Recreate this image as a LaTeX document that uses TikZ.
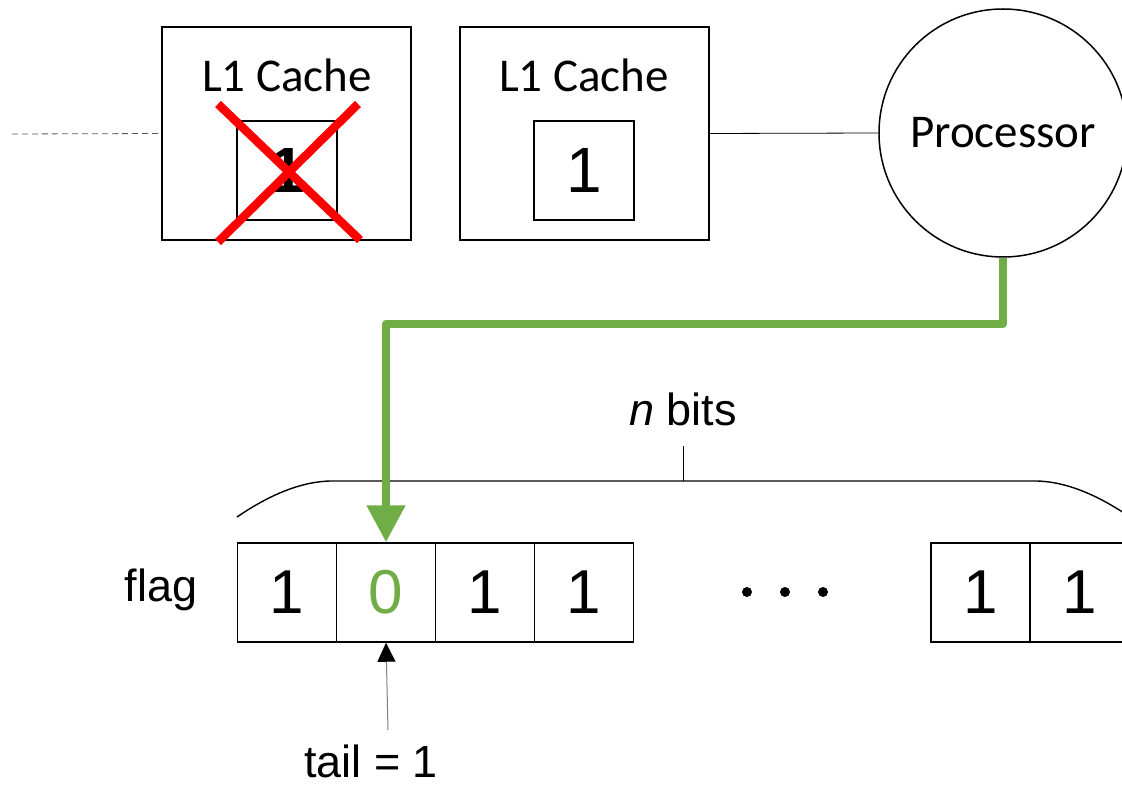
\documentclass[tikz,border=0pt]{standalone}
\usepackage{fontspec}
\setmainfont{Liberation Sans}
\newfontfamily\calibrifont{Carlito}
\usetikzlibrary{arrows.meta}
\definecolor{accgreen}{RGB}{112,173,71}
\definecolor{crossred}{RGB}{255,0,0}

\begin{document}
\begin{tikzpicture}[x=1pt,y=-1pt,
  cachebox/.style={draw, line width=1.6pt, minimum width=249pt, minimum height=213pt, inner sep=0pt},
  slot/.style={draw, line width=1.6pt, minimum width=100pt, minimum height=99pt, inner sep=0pt,
    font=\fontsize{64}{64}\selectfont},
  cell/.style={draw, line width=1.5pt, minimum width=99pt, minimum height=99pt, inner sep=0pt,
    font=\fontsize{62}{62}\selectfont},
  lbl/.style={font=\fontsize{45}{45}\selectfont, inner sep=0pt},
  clbl/.style={font=\calibrifont\fontsize{47}{47}\selectfont, inner sep=0pt},
  thin/.style={line width=0.8pt}]
\useasboundingbox (0,0) rectangle (1122,786);

% caches
\node[cachebox] (cacheA) at (286.5,133.5) {};
\node[cachebox] (cacheB) at (584.5,133.5) {};
\node[clbl, anchor=base] (titleA) at (287,92) {L1 Cache};
\node[clbl, anchor=base] (titleB) at (584,92) {L1 Cache};
\node[slot] (slotA) at (287,170.5) {\textbf{1}};
\node[slot] (slotB) at (584,170.5) {1};

% invalidated copy
\draw[crossred, line width=8.5pt] (218,104) -- (360,240);
\draw[crossred, line width=8.5pt] (358,104) -- (218,242);

% processor
\node[circle, draw, line width=1.5pt, minimum size=248pt, inner sep=0pt] (proc) at (1003,133) {};
\node[clbl, anchor=base] (proclbl) at (1003,148) {Processor};

% links
\coordinate (busend) at (12,134);
\draw[thin, dashed, dash pattern=on 6pt off 4pt, gray!70!black] (busend) -- (cacheA.west);
\draw[thin] (cacheB.east) -- (proc.west);

% flag array
\node[cell] (c1) at (287,592.5) {1};
\node[cell] (c2) at (386,592.5) {\textcolor{accgreen}{0}};
\node[cell] (c3) at (485,592.5) {1};
\node[cell] (c4) at (584,592.5) {1};
\node[cell] (c5) at (980.5,592.5) {1};
\node[cell] (c6) at (1079.5,592.5) {1};
\node[lbl] (flaglbl) at (161,590) {flag};
\foreach \dx in {747,785,823} \fill (\dx,592) circle (5pt);

% brace over the n bits
\draw[line width=1.4pt] (237,517) .. controls (262,500) and (295,482) .. (330,481)
  -- (1037,481) .. controls (1072,482) and (1105,500) .. (1130,517);
\coordinate (bracetip) at (683.5,481);
\coordinate (bracetop) at (683.5,446);
\draw[line width=1.4pt] (bracetip) -- (bracetop);
\node[lbl, anchor=base] (nbits) at (683,425) {\textit{n} bits};

% processor writes the flag
\draw[accgreen, line width=8pt, line join=round,
  -{Triangle[width=37pt, length=37pt]}] (proc.south) -- ++(0,66) -| (c2.north);

% tail pointer
\coordinate (tailfoot) at (388,730);
\draw[gray, line width=1pt, -{Triangle[width=18pt, length=19pt, black]}] (tailfoot) -- (c2.south);
\node[lbl, anchor=base] (taillbl) at (371,777) {tail = 1};
\end{tikzpicture}
\end{document}
